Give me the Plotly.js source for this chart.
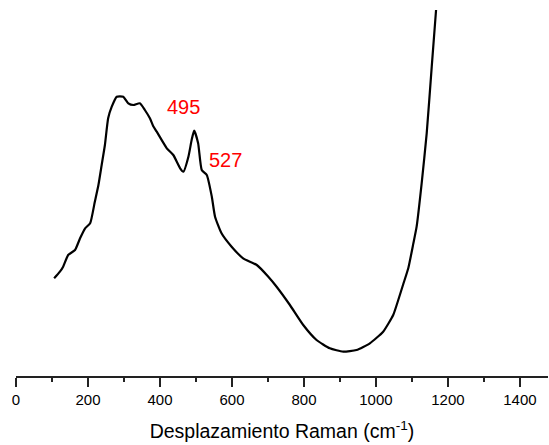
<!DOCTYPE html>
<html>
<head>
<meta charset="utf-8">
<script src="https://cdn.plot.ly/plotly-3.0.1.min.js"></script>
<style>html,body{margin:0;padding:0;background:#fff;}#chart{width:549px;height:445px;}</style>
</head>
<body>
<div id="chart"></div>
<script>
// Raman shift (cm^-1)
const ramanShift = [106,122,131,145,164,178,192,206,219,229,238,247,256,266,280,298,312,326,344,358,372,381,391,419,437,456,465,479,488,495,506,516,530,544,553,571,599,631,669,701,724,761,798,835,872,909,946,983,1020,1048,1062,1076,1090,1104,1113,1127,1141,1155,1167];
// Intensity (arbitrary units)
const intensity = [97.7,104.3,109.3,121,126,137.7,147.7,152.7,174.3,191,211,231,257.7,269.3,279.3,279.3,272.7,271,272.7,266,257.7,250,244.3,227.7,221,207.7,204.3,219.3,236,245.3,232.7,206,201,179.3,159.3,142.7,129.3,117.7,111,99.3,89.3,71,51,36,27.7,24.3,26,32.7,44.3,61,76,92,108,132.7,149.3,192.7,242.7,309.3,366];
// Peak labels
const peakLabels = ["495", "527"];
const peakLabelX = [465, 582];
const peakLabelY = [269, 216];
const xTickVals = [0,200,400,600,800,1000,1200,1400];

const font = "Liberation Sans, Arial, sans-serif";
const trace = {
  x: ramanShift, y: intensity, type: "scatter", mode: "lines",
  line: {color: "#000", width: 2.2, shape: "spline", smoothing: 0.5}, hoverinfo: "skip"
};
const annotations = peakLabels.map((t, i) => ({
  x: peakLabelX[i], y: peakLabelY[i], xref: "x", yref: "y", text: t,
  showarrow: false, font: {family: font, size: 20, color: "#ff0000"}
}));
const layout = {
  width: 549, height: 445,
  margin: {l: 16, r: 1, t: 0, b: 69},
  paper_bgcolor: "#fff", plot_bgcolor: "#fff",
  showlegend: false,
  xaxis: {
    range: [0, 1478], tickvals: xTickVals, ticktext: xTickVals.map(String),
    showline: true, linecolor: "#222", linewidth: 1.5,
    ticks: "outside", ticklen: 9, tickwidth: 1.5, tickcolor: "#222",
    minor: {dtick: 100, tick0: 0, ticks: "outside", ticklen: 4, tickwidth: 1.5, tickcolor: "#222", showgrid: false},
    showgrid: false, zeroline: false,
    tickfont: {family: font, size: 15, color: "#000"},
    title: {text: "Desplazamiento Raman (cm<sup>-1</sup>)", font: {family: font, size: 19.5, color: "#000"}, standoff: 18}
  },
  yaxis: {range: [0, 376], visible: false, showgrid: false, zeroline: false},
  annotations: annotations
};
Plotly.newPlot("chart", [trace], layout, {staticPlot: true, displayModeBar: false});
</script>
</body>
</html>
